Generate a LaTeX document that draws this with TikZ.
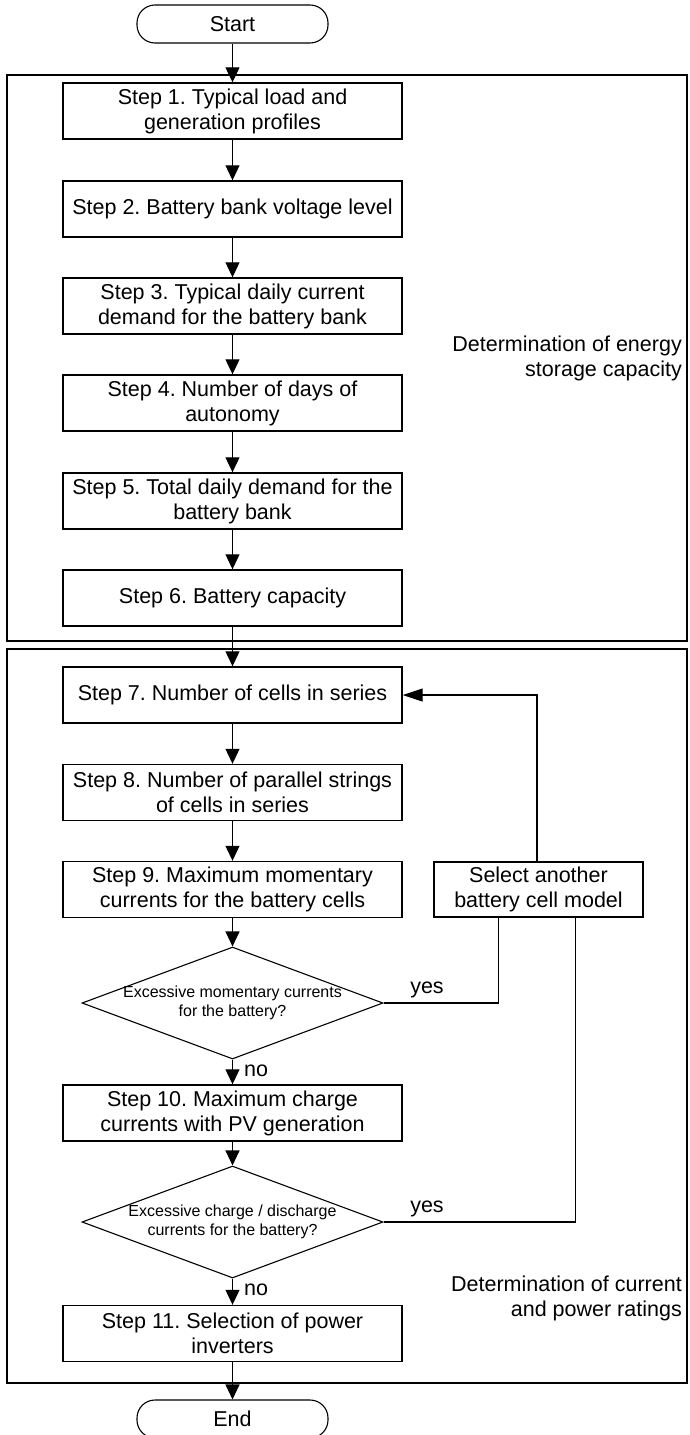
\documentclass[tikz,border=0pt]{standalone}
\usepackage{fontspec}
\setmainfont{Liberation Sans}
\frenchspacing
\usetikzlibrary{arrows.meta,shapes.geometric,calc}

\tikzset{
  base/.style={font=\fontsize{21.5}{25}\selectfont},
  stepbox/.style={base, draw, line width=1.4pt, fill=white, align=center,
    minimum width=339pt, minimum height=56pt, inner sep=0pt},
  terminal/.style={base, draw, line width=1.1pt, fill=white, rounded corners=18pt,
    minimum width=191pt, minimum height=38pt, inner sep=0pt},
  decision/.style={draw, line width=1.1pt, fill=white, diamond, aspect=2.7,
    minimum width=301pt, minimum height=112pt, inner sep=0pt},
  dtext/.style={font=\fontsize{16}{19}\selectfont, align=center},
  groupbox/.style={draw, line width=1.3pt},
  grouplabel/.style={base, align=right, inner sep=0pt},
  lbl/.style={base, inner sep=0pt},
  flow/.style={line width=1.1pt, -{Triangle[length=15pt,width=14pt]}},
  loopback/.style={line width=1.1pt, -{Triangle[length=20pt,width=13pt]}},
  plain/.style={line width=1.1pt},
}

\begin{document}
\begin{tikzpicture}[x=1pt,y=-1pt]
\useasboundingbox (0,0) rectangle (690,1435);

% group frames
\draw[groupbox] (7,75) rectangle (687,641);
\draw[groupbox] (7,649) rectangle (687,1383);

\node[grouplabel, anchor=east] (energy) at (682,358)
  {Determination of energy\\storage capacity};
\node[grouplabel, anchor=east] (power) at (682,1298)
  {Determination of current\\and power ratings};

% main column
\node[terminal] (start) at (232.5,24) {Start};
\node[stepbox] (s1) at (232.5,111) {Step 1. Typical load and\\generation profiles};
\node[stepbox] (s2) at (232.5,209) {Step 2. Battery bank voltage level};
\node[stepbox] (s3) at (232.5,306) {Step 3. Typical daily current\\demand for the battery bank};
\node[stepbox] (s4) at (232.5,403) {Step 4. Number of days of\\autonomy};
\node[stepbox] (s5) at (232.5,501) {Step 5. Total daily demand for the\\battery bank};
\node[stepbox] (s6) at (232.5,598) {Step 6. Battery capacity};
\node[stepbox] (s7) at (232.5,695) {Step 7. Number of cells in series};
\node[stepbox] (s8) at (232.5,792.5) {Step 8. Number of parallel strings\\of cells in series};
\node[stepbox] (s9) at (232.5,889.5) {Step 9. Maximum momentary\\currents for the battery cells};
\node[decision, label={[dtext]center:{Excessive momentary currents\\for the battery?}}] (d1) at (232.5,1003) {};
\node[stepbox] (s10) at (232.5,1113) {Step 10. Maximum charge\\currents with PV generation};
\node[decision, label={[dtext]center:{Excessive charge / discharge\\currents for the battery?}}] (d2) at (232.5,1222) {};
\node[stepbox] (s11) at (232.5,1333.5) {Step 11. Selection of power\\inverters};
\node[terminal] (end) at (232.5,1419) {End};

% side box
\node[stepbox, minimum width=209pt, minimum height=55pt] (sel) at (538.5,889.5)
  {Select another\\battery cell model};

% main flow
\draw[flow] (start) -- (s1);
\foreach \a/\b in {s1/s2,s2/s3,s3/s4,s4/s5,s5/s6,s6/s7,s7/s8,s8/s9,s9/d1,d1/s10,s10/d2,d2/s11,s11/end}
  \draw[flow] (\a.south) -- (\b.north);

% loop back to step 7
\draw[loopback] ($(sel.north west)!0.493!(sel.north east)$) |- (s7.east);
\draw[plain] (d1.east) -| ($(sel.south west)!0.311!(sel.south east)$);
\draw[plain] (d2.east) -| ($(sel.south west)!0.675!(sel.south east)$);

% branch labels
\node[lbl, anchor=base] (yes1) at (427,993) {yes};
\node[lbl, anchor=base] (yes2) at (427,1212) {yes};
\node[lbl, anchor=base west] (no1) at (244,1076) {no};
\node[lbl, anchor=base west] (no2) at (244,1295) {no};
\end{tikzpicture}
\end{document}
